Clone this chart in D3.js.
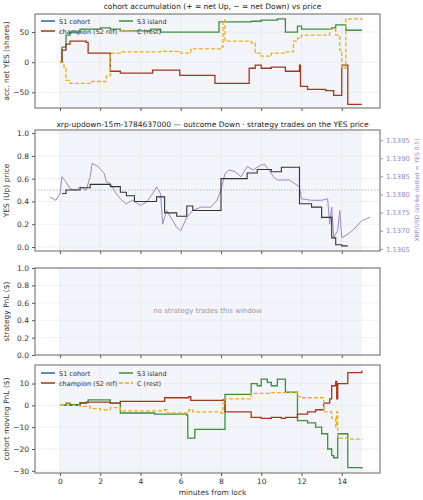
<!DOCTYPE html>
<html><head><meta charset="utf-8">
<script src="https://cdn.jsdelivr.net/npm/d3@7"></script>
<style>body{margin:0;background:#fff}text{font-family:"DejaVu Sans",sans-serif}</style>
</head><body><div class="viz"></div>
<script>
// cohort accumulation (net YES shares) — [minute, value] steps
const accS3 = [[0,0],[0.1,25],[0.3,45],[0.5,50],[1,55],[2,57],[2.5,55],[3,52],[4.5,55],[5,50],[7.9,67],[9.5,68],[10,70],[10.8,72],[11.2,50],[11.8,60],[12,55],[13.5,57],[13.7,62],[14.2,53],[15,53]];
const accChamp = [[0,0],[0.1,20],[0.3,30],[0.5,35],[1.3,33],[1.4,15],[2.5,-15],[3,-18],[4.6,-13],[5.95,-22],[7.7,-35],[9.4,-10],[9.7,-5],[10,-10],[10.5,-8],[11.2,-15],[11.9,-5],[11.95,-40],[12.3,-45],[13.2,-47],[13.6,-55],[14,-5],[14.3,-70],[15,-70]];
const accC = [[0,0],[0.2,-10],[0.3,-30],[0.5,-35],[1.5,-32],[2.3,-23],[2.5,15],[3,17],[5,18],[6,15],[6.5,22],[8,25],[8.1,70],[8.2,35],[9.5,32],[9.7,15],[10,10],[10.5,15],[11.2,17],[11.6,35],[11.8,40],[12,45],[13.2,45],[13.4,55],[13.7,45],[13.9,20],[14,-10],[14.2,72],[15,70]];
// YES price (step) and XRP/USD spot
const yesPrice = [[0.1,0.47],[0.3,0.5],[1,0.52],[1.5,0.55],[2.5,0.53],[3,0.48],[3.3,0.45],[3.7,0.40],[4.8,0.44],[5.2,0.30],[5.8,0.27],[6.3,0.36],[6.6,0.32],[8,0.6],[9.3,0.65],[9.8,0.68],[10.5,0.66],[11,0.70],[11.9,0.38],[12.5,0.35],[13,0.26],[13.5,0.08],[13.7,0.02],[14,0.01],[14.3,0.01]];
const xrp = [[-0.5,1.13793],[-0.2,1.13784],[0,1.13802],[0.1,1.13849],[0.3,1.13835],[0.5,1.13816],[0.8,1.13812],[1,1.13821],[1.3,1.13812],[1.5,1.13849],[1.6,1.13886],[1.9,1.13877],[2.2,1.13858],[2.3,1.13835],[2.5,1.13830],[2.8,1.13802],[3,1.13788],[3.3,1.13774],[3.6,1.13784],[4,1.13770],[4.3,1.13779],[4.6,1.13802],[4.8,1.13821],[5,1.13802],[5.1,1.13718],[5.3,1.13756],[5.6,1.13728],[5.8,1.13709],[6,1.13700],[6.3,1.13737],[6.6,1.13756],[7,1.13765],[7.5,1.13765],[7.8,1.13784],[8,1.13812],[8.2,1.13858],[8.4,1.13868],[8.7,1.13863],[9,1.13849],[9.3,1.13877],[9.6,1.13868],[10,1.13882],[10.2,1.13882],[10.6,1.13849],[10.8,1.13840],[11.4,1.13840],[11.9,1.13821],[12,1.13788],[12.5,1.13784],[13,1.13784],[13.3,1.13788],[13.4,1.13718],[13.5,1.13765],[13.6,1.13681],[13.8,1.13700],[13.9,1.13756],[14,1.13681],[14.3,1.13690],[14.6,1.13704],[15,1.13728],[15.4,1.13737]];
// cohort moving PnL ($)
const pnlChamp = [[0,0],[1,1],[1.3,1.5],[2.5,1],[3,1.8],[5.2,3.5],[6.4,4],[6.5,2.3],[8.1,2.5],[8.2,-3],[9.5,-5.5],[10,-6],[10.5,-5.5],[11,-6],[11.2,-5.5],[11.8,-4],[12.3,-3],[12.7,-2],[13.1,1],[13.4,3],[13.5,9],[13.7,11],[13.75,3],[13.8,10],[14.3,15],[15,16]];
const pnlS3 = [[0,0],[0.3,1],[0.5,0.3],[1,1.2],[1.4,2.5],[2.5,1],[3,-3.5],[4.7,-4],[6.3,-4.5],[6.35,-15],[6.7,-11],[8,-11],[8.2,5],[9.5,10],[9.8,9],[10,12],[10.3,10.5],[10.5,9],[10.8,12],[11.2,6],[11.8,-7],[12.3,-8],[12.7,-10],[13,-13],[13.3,-20],[13.5,-23],[13.6,-24],[13.8,-13],[14.3,-28.5],[15,-29]];
const pnlC = [[0,0],[1,-0.5],[1.5,-1.5],[2,-2],[2.5,-1],[3,-2.5],[5.2,-2],[5.3,-3.5],[6.4,-2],[6.6,-3],[8,-3.5],[8.1,1],[8.2,3],[9.5,5.5],[10.5,5.8],[11.8,4],[12,3.5],[13,3.5],[13.1,-3],[13.5,-6],[13.7,-10],[13.75,-3],[13.8,-15],[14.3,-15.5],[15,-16]];
const xTicks = [0,2,4,6,8,10,12,14];

const cBlue = "#2a5caa", cRed = "#a0391f", cGreen = "#3d8f3d", cGold = "#e8b020", cPurple = "#9b8ac0";
const W = 423, H = 500, L = 35, R = 380;
const svg = d3.select(".viz").append("svg").attr("width", W).attr("height", H);
const x = d3.scaleLinear().domain([-1.24, 15.9]).range([L, R]);

function panel(top, bottom, ydom, yticks, fmt, ylabel, showX) {
  const y = d3.scaleLinear().domain(ydom).range([bottom, top]);
  const g = svg.append("g");
  g.append("rect").attr("x", x(0)).attr("y", top).attr("width", x(15) - x(0)).attr("height", bottom - top).attr("fill", "#f3f5fa");
  g.selectAll(".gx").data(xTicks).enter().append("line").attr("x1", d => x(d)).attr("x2", d => x(d)).attr("y1", top).attr("y2", bottom).attr("stroke", "#e6e6e6").attr("stroke-width", 0.6);
  g.selectAll(".gy").data(yticks).enter().append("line").attr("x1", L).attr("x2", R).attr("y1", d => y(d)).attr("y2", d => y(d)).attr("stroke", "#e6e6e6").attr("stroke-width", 0.6);
  const ax = g.append("g").attr("transform", `translate(0,${bottom})`).call(d3.axisBottom(x).tickValues(xTicks).tickSize(3).tickFormat(showX ? d3.format("d") : ""));
  const ay = g.append("g").attr("transform", `translate(${L},0)`).call(d3.axisLeft(y).tickValues(yticks).tickSize(3).tickFormat(fmt));
  [ax, ay].forEach(a => { a.select(".domain").remove(); a.selectAll("text").attr("font-size", 7.5).attr("fill", "#333"); a.selectAll("line").attr("stroke", "#555"); });
  g.append("rect").attr("x", L).attr("y", top).attr("width", R - L).attr("height", bottom - top).attr("fill", "none").attr("stroke", "#666").attr("stroke-width", 1);
  g.append("text").attr("transform", `translate(9,${(top + bottom) / 2}) rotate(-90)`).attr("text-anchor", "middle").attr("font-size", 7.5).attr("fill", "#333").text(ylabel);
  return y;
}
function step(y, data, color, dash, w) {
  svg.append("path").datum(data).attr("fill", "none").attr("stroke", color).attr("stroke-width", w || 1.3)
    .attr("stroke-dasharray", dash ? "4,2" : null)
    .attr("d", d3.line().x(d => x(d[0])).y(d => y(d[1])).curve(d3.curveStepAfter));
}
function legend(lx, ly) {
  const items = [["S1 cohort", cBlue, false, 0, 0], ["champion (S2 ref)", cRed, false, 0, 10], ["S3 island", cGreen, false, 78, 0], ["C (rest)", cGold, true, 78, 10]];
  const g = svg.append("g").attr("transform", `translate(${lx},${ly})`);
  items.forEach(([t, c, dash, dx, dy]) => {
    g.append("line").attr("x1", dx).attr("x2", dx + 14).attr("y1", dy).attr("y2", dy).attr("stroke", c).attr("stroke-width", 1.5).attr("stroke-dasharray", dash ? "4,2" : null);
    g.append("text").attr("x", dx + 18).attr("y", dy + 2.5).attr("font-size", 6.5).attr("fill", "#333").text(t);
  });
}
function title(t, yy) { svg.append("text").attr("x", (L + R) / 2 + 5).attr("y", yy).attr("text-anchor", "middle").attr("font-size", 7.5).attr("fill", "#222").text(t); }

// panel 1
title("cohort accumulation (+ = net Up, \u2212 = net Down) vs price", 9);
const y1 = panel(14, 108, [-76, 80], [-50, 0, 50], d3.format("d"), "acc. net YES (shares)", false);
step(y1, accS3, cGreen); step(y1, accChamp, cRed); step(y1, accC, cGold, true);
legend(41, 21);

// panel 2
title("xrp-updown-15m-1784637000 \u2014 outcome Down \u00b7 strategy trades on the YES price", 127);
const y2 = panel(130, 251, [-0.035, 1.027], [0, 0.2, 0.4, 0.6, 0.8, 1.0], d3.format(".1f"), "YES (Up) price", false);
const y2r = d3.scaleLinear().domain([1.13644, 1.13978]).range([251, 130]);
const ar = svg.append("g").attr("transform", `translate(${R},0)`).call(d3.axisRight(y2r).tickValues([1.1365, 1.1370, 1.1375, 1.1380, 1.1385, 1.1390, 1.1395]).tickSize(3).tickFormat(d3.format(".4f")));
ar.select(".domain").remove(); ar.selectAll("text").attr("font-size", 6.8).attr("fill", cPurple); ar.selectAll("line").attr("stroke", cPurple);
svg.append("text").attr("transform", `translate(419,190) rotate(-90)`).attr("text-anchor", "middle").attr("font-size", 6).attr("fill", cPurple).text("XRP/USD (strike dotted = YES 0.5)");
svg.append("line").attr("x1", L).attr("x2", R).attr("y1", y2(0.5)).attr("y2", y2(0.5)).attr("stroke", "#bbb").attr("stroke-dasharray", "1.5,1.5");
svg.append("path").datum(xrp).attr("fill", "none").attr("stroke", cPurple).attr("stroke-width", 1).attr("d", d3.line().x(d => x(d[0])).y(d => y2r(d[1])));
step(y2, yesPrice, "#333", false, 1.1);

// panel 3
panel(268, 355, [0, 1], [0, 0.2, 0.4, 0.6, 0.8, 1.0], d3.format(".1f"), "strategy PnL ($)", false);
svg.append("text").attr("x", (L + R) / 2).attr("y", 313).attr("text-anchor", "middle").attr("font-size", 7).attr("fill", "#999").text("no strategy trades this window");

// panel 4
const y4 = panel(365, 473, [-31, 18.5], [-30, -20, -10, 0, 10], d3.format("d"), "cohort moving PnL ($)", true);
step(y4, pnlS3, cGreen); step(y4, pnlChamp, cRed); step(y4, pnlC, cGold, true);
legend(41, 373);
svg.append("text").attr("x", (L + R) / 2 + 5).attr("y", 495).attr("text-anchor", "middle").attr("font-size", 7.5).attr("fill", "#333").text("minutes from lock");
</script></body></html>
